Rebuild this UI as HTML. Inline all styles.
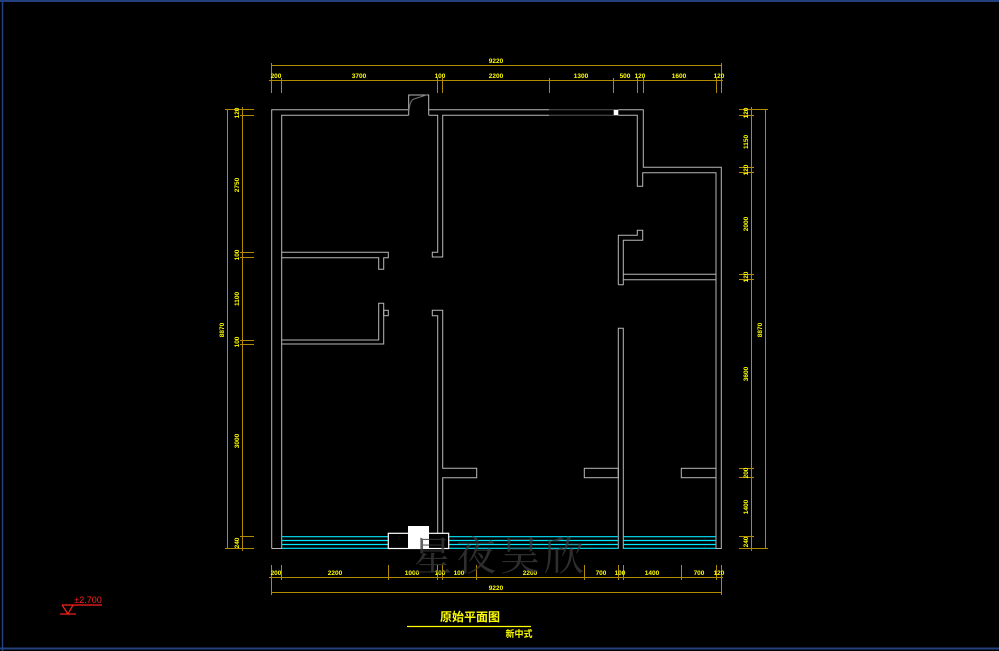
<!DOCTYPE html>
<html><head><meta charset="utf-8"><style>
html,body{margin:0;padding:0;background:#000;width:999px;height:651px;overflow:hidden}
svg{display:block}
.w{stroke:#b8b8b8;stroke-width:1;fill:none}
.d{stroke:#b08a00;stroke-width:1;fill:none}
.c{stroke:#00e5ff;stroke-width:1.2}
.t{fill:#ffff00;font-family:"Liberation Sans",sans-serif;font-size:6.5px;font-weight:bold;text-anchor:middle}
</style></head><body>
<svg width="999" height="651" viewBox="0 0 999 651" xmlns="http://www.w3.org/2000/svg">
<rect width="999" height="651" fill="#000"/>
<line x1="0" y1="1" x2="999" y2="1" stroke="#23407f" stroke-width="2"/>
<line x1="2.5" y1="0" x2="2.5" y2="651" stroke="#23407f" stroke-width="1.5"/>
<line x1="0" y1="648.5" x2="999" y2="648.5" stroke="#23407f" stroke-width="2"/>

<!-- top dims -->
<g class="d">
<line x1="271.5" y1="65.5" x2="721.5" y2="65.5"/>
<line x1="269" y1="80.5" x2="723" y2="80.5"/>
<line x1="271.5" y1="63" x2="271.5" y2="93"/><line x1="721.5" y1="63" x2="721.5" y2="93"/>
<line x1="281.5" y1="78" x2="281.5" y2="93"/><line x1="437.5" y1="78" x2="437.5" y2="93"/>
<line x1="442.5" y1="78" x2="442.5" y2="93"/><line x1="549.5" y1="78" x2="549.5" y2="93"/>
<line x1="613.5" y1="78" x2="613.5" y2="93"/><line x1="637.5" y1="78" x2="637.5" y2="93"/>
<line x1="643.5" y1="78" x2="643.5" y2="93"/><line x1="716.5" y1="78" x2="716.5" y2="93"/>
</g>
<g class="t">
<text x="496" y="63">9220</text>
<text x="276" y="78">200</text><text x="359" y="78">3700</text><text x="440" y="78">100</text>
<text x="496" y="78">2200</text><text x="581" y="78">1300</text><text x="625" y="78">500</text>
<text x="640" y="78">120</text><text x="679" y="78">1600</text><text x="719" y="78">120</text>
</g>

<!-- bottom dims -->
<g class="d">
<line x1="269" y1="577.5" x2="723" y2="577.5"/>
<line x1="271.5" y1="592.5" x2="721.5" y2="592.5"/>
<line x1="271.5" y1="565" x2="271.5" y2="595"/><line x1="721.5" y1="565" x2="721.5" y2="595"/>
<line x1="281.5" y1="565" x2="281.5" y2="580"/><line x1="388.5" y1="565" x2="388.5" y2="580"/>
<line x1="437.5" y1="565" x2="437.5" y2="580"/><line x1="442.5" y1="565" x2="442.5" y2="580"/>
<line x1="476.5" y1="565" x2="476.5" y2="580"/><line x1="584.5" y1="565" x2="584.5" y2="580"/>
<line x1="618.5" y1="565" x2="618.5" y2="580"/><line x1="623.5" y1="565" x2="623.5" y2="580"/>
<line x1="681.5" y1="565" x2="681.5" y2="580"/><line x1="716.5" y1="565" x2="716.5" y2="580"/>
</g>
<g class="t">
<text x="276" y="575">200</text><text x="335" y="575">2200</text><text x="412" y="575">1000</text>
<text x="440" y="575">100</text><text x="459" y="575">100</text><text x="530" y="575">2200</text>
<text x="601" y="575">700</text><text x="620" y="575">100</text><text x="652" y="575">1400</text>
<text x="699" y="575">700</text><text x="719" y="575">120</text>
<text x="496" y="590">9220</text>
</g>

<!-- left dims -->
<g class="d">
<line x1="227.5" y1="109" x2="227.5" y2="549"/>
<line x1="242.5" y1="107" x2="242.5" y2="551"/>
<line x1="225" y1="109.5" x2="254" y2="109.5"/><line x1="225" y1="548.5" x2="254" y2="548.5"/>
<line x1="240" y1="115.5" x2="254" y2="115.5"/><line x1="240" y1="252.5" x2="254" y2="252.5"/>
<line x1="240" y1="257.5" x2="254" y2="257.5"/><line x1="240" y1="340.5" x2="254" y2="340.5"/>
<line x1="240" y1="344.5" x2="254" y2="344.5"/><line x1="240" y1="536.5" x2="254" y2="536.5"/>
</g>
<g class="t">
<text transform="translate(239,113) rotate(-90)">120</text>
<text transform="translate(239,185) rotate(-90)">2750</text>
<text transform="translate(239,255) rotate(-90)">100</text>
<text transform="translate(239,299) rotate(-90)">1100</text>
<text transform="translate(239,342) rotate(-90)">100</text>
<text transform="translate(239,441) rotate(-90)">3000</text>
<text transform="translate(239,543) rotate(-90)">240</text>
<text transform="translate(224,330) rotate(-90)">8870</text>
</g>

<!-- right dims -->
<g class="d">
<line x1="751.5" y1="107" x2="751.5" y2="551"/>
<line x1="765.5" y1="109" x2="765.5" y2="549"/>
<line x1="739" y1="109.5" x2="768" y2="109.5"/><line x1="739" y1="548.5" x2="768" y2="548.5"/>
<line x1="739" y1="115.5" x2="754" y2="115.5"/><line x1="739" y1="167.5" x2="754" y2="167.5"/>
<line x1="739" y1="172.5" x2="754" y2="172.5"/><line x1="739" y1="274.5" x2="754" y2="274.5"/>
<line x1="739" y1="279.5" x2="754" y2="279.5"/><line x1="739" y1="468.5" x2="754" y2="468.5"/>
<line x1="739" y1="477.5" x2="754" y2="477.5"/><line x1="739" y1="536.5" x2="754" y2="536.5"/>
</g>
<g class="t">
<text transform="translate(748,113) rotate(-90)">120</text>
<text transform="translate(748,142) rotate(-90)">1150</text>
<text transform="translate(748,170) rotate(-90)">120</text>
<text transform="translate(748,224) rotate(-90)">2000</text>
<text transform="translate(748,277) rotate(-90)">120</text>
<text transform="translate(748,374) rotate(-90)">3600</text>
<text transform="translate(748,473) rotate(-90)">200</text>
<text transform="translate(748,507) rotate(-90)">1400</text>
<text transform="translate(748,542) rotate(-90)">240</text>
<text transform="translate(762,330) rotate(-90)">8870</text>
</g>

<!-- walls -->
<g class="w">
<polyline points="271.7,548.5 271.7,109.7 408.7,109.7"/>
<polyline points="428.7,109.7 549,109.7"/>
<polyline points="618.3,109.7 643.3,109.7 643.3,167.3 721.3,167.3 721.3,548.5 716,548.5 716,172.7 642.7,172.7 642.7,186.3 637.3,186.3 637.3,115.3 618.3,115.3"/>
<polyline points="549,115.3 442.7,115.3 442.7,257 432.3,257 432.3,252.3 437.7,252.3 437.7,115.3 428.7,115.3"/>
<polyline points="408.7,115.3 281.7,115.3 281.7,548.5 271.7,548.5"/>
<polyline points="408.7,115.3 408.7,95 428.7,95 428.7,115.3"/>
<path d="M409 111 Q410 100 414 99 L428 94.5" stroke="#777" stroke-width="1"/>
<polyline points="281.7,252.3 388.3,252.3 388.3,257.7 383.7,257.7 383.7,269.3 378.7,269.3 378.7,257.7 281.7,257.7"/>
<polyline points="281.7,340 378.7,340 378.7,303.3 383.7,303.3 383.7,344 281.7,344"/>
<rect x="383.7" y="310.3" width="4.6" height="5.4"/>
<polyline points="437.7,533.3 437.7,315.7 432.3,315.7 432.3,310.3 442.7,310.3 442.7,468.3 476.7,468.3 476.7,477.7 442.7,477.7 442.7,533.3"/>
<polyline points="623.3,274.3 716,274.3"/>
<polyline points="623.3,279.7 716,279.7"/>
<polyline points="618.3,284.7 618.3,235.3 637.3,235.3 637.3,230.3 642.7,230.3 642.7,240.3 623.3,240.3 623.3,284.7 618.3,284.7"/>
<polyline points="618.3,548.7 618.3,328.3 623.3,328.3 623.3,548.7"/>
<rect x="584.3" y="468.3" width="34" height="9.4"/>
<rect x="681.3" y="468.3" width="34.7" height="9.4"/>
</g>
<line x1="549" y1="109.7" x2="613.7" y2="109.7" stroke="#555" stroke-width="1"/>
<line x1="549" y1="115.3" x2="613.7" y2="115.3" stroke="#555" stroke-width="1"/>
<rect x="613.7" y="109.7" width="4.6" height="5.6" fill="#fff"/>

<g class="c">
<line x1="281.7" y1="536.7" x2="388.3" y2="536.7"/><line x1="281.7" y1="540.5" x2="388.3" y2="540.5"/><line x1="281.7" y1="544.5" x2="388.3" y2="544.5"/><line x1="281.7" y1="548.3" x2="388.3" y2="548.3"/>
<line x1="448.7" y1="536.7" x2="618.3" y2="536.7"/><line x1="448.7" y1="540.5" x2="618.3" y2="540.5"/><line x1="448.7" y1="544.5" x2="618.3" y2="544.5"/><line x1="448.7" y1="548.3" x2="618.3" y2="548.3"/>
<line x1="623.3" y1="536.7" x2="716" y2="536.7"/><line x1="623.3" y1="540.5" x2="716" y2="540.5"/><line x1="623.3" y1="544.5" x2="716" y2="544.5"/><line x1="623.3" y1="548.3" x2="716" y2="548.3"/>
</g>
<rect x="388.3" y="533.3" width="60.4" height="15.2" fill="none" stroke="#fff" stroke-width="1.2"/>
<rect x="408" y="526" width="21" height="22.7" fill="#fff"/>

<text x="500" y="570" fill="#3a3a3a" fill-opacity="0.8" font-family="'Noto Serif CJK SC','WenQuanYi Zen Hei',serif" font-size="40" text-anchor="middle" letter-spacing="4">星夜吴欣</text>

<g stroke="#ff2020" stroke-width="1.2" fill="none">
<line x1="62" y1="605" x2="102" y2="605"/>
<polyline points="62,605 68,614 73,605"/>
<line x1="60" y1="614" x2="76" y2="614"/>
</g>
<text x="88" y="603" fill="#ff2020" font-family="'Liberation Sans',sans-serif" font-size="9" text-anchor="middle">±2.700</text>

<text x="470" y="621" fill="#ffff00" font-family="'Liberation Sans','Noto Sans CJK SC',sans-serif" font-size="12" font-weight="bold" text-anchor="middle">原始平面图</text>
<line x1="407" y1="626.5" x2="531" y2="626.5" stroke="#ffff00" stroke-width="1.3"/>
<text x="519" y="637" fill="#ffff00" font-family="'Liberation Sans','Noto Sans CJK SC',sans-serif" font-size="9" font-weight="bold" text-anchor="middle">新中式</text>
</svg>
</body></html>
